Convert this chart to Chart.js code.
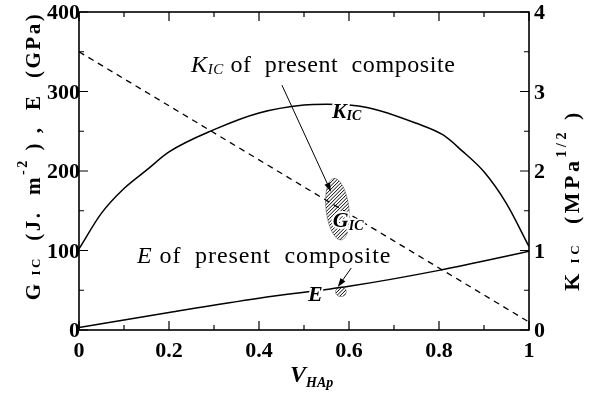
<!DOCTYPE html>
<html>
<head>
<meta charset="utf-8">
<script src="https://cdn.jsdelivr.net/npm/chart.js@4"></script>
<style>
  html, body { margin: 0; padding: 0; background: #fff; }
  #wrap { width: 599px; height: 396px; }
</style>
</head>
<body>
<div id="wrap"><canvas id="grafico" width="599" height="396"></canvas></div>
<script>
// K_IC curve (right axis, MPa^1/2)
const kVhap = [0, 0.05, 0.1, 0.15, 0.2, 0.3, 0.4, 0.5, 0.55, 0.64, 0.75, 0.81, 0.85, 0.9, 0.95, 1.0];
const kIc = [1.02, 1.47, 1.78, 2.01, 2.24, 2.52, 2.73, 2.83, 2.84, 2.80, 2.60, 2.45, 2.26, 1.99, 1.59, 1.05];

// E curve (left axis, GPa)
const eVhap = [0, 0.2, 0.4, 0.6, 0.8, 1.0];
const eMod = [3, 22, 40, 55, 75, 99];

// G_IC dashed line (left axis, J m^-2)
const gVhap = [0, 1];
const gIc = [350, 10];

// present composite (measured ranges)
const compGicVhap = [0.549, 0.600];
const compGicRange = [113, 191];
const compEVhap = [0.570, 0.594];
const compERange = [42, 54];

// ticks
const xMajor = [0, 0.2, 0.4, 0.6, 0.8, 1];
const xMajorLabels = ['0', '0.2', '0.4', '0.6', '0.8', '1'];
const xMinor = [0.1, 0.3, 0.5, 0.7, 0.9];
const leftMajor = [0, 100, 200, 300, 400];
const leftMinor = [50, 150, 250, 350];
const rightMajor = [0, 1, 2, 3, 4];
const rightMinor = [0.5, 1.5, 2.5, 3.5];

const F = '"Liberation Serif", "Times New Roman", serif';

function largura(ctx, parts, esp) {
  let w = 0;
  ctx.letterSpacing = (esp || 0) + 'px';
  for (const p of parts) { ctx.font = p[1]; w += ctx.measureText(p[0]).width; }
  ctx.letterSpacing = '0px';
  return w;
}

function escrever(ctx, x, y, parts, halo, esp) {
  let cx = x;
  ctx.letterSpacing = (esp || 0) + 'px';
  for (const p of parts) {
    ctx.font = p[1];
    if (halo) {
      ctx.strokeStyle = '#fff';
      ctx.lineWidth = 4;
      ctx.lineJoin = 'round';
      ctx.strokeText(p[0], cx, y + (p[2] || 0));
    }
    ctx.fillStyle = '#000';
    ctx.fillText(p[0], cx, y + (p[2] || 0));
    cx += ctx.measureText(p[0]).width;
  }
  ctx.letterSpacing = '0px';
}

function seta(ctx, x1, y1, x2, y2) {
  const a = Math.atan2(y2 - y1, x2 - x1);
  ctx.strokeStyle = '#000';
  ctx.lineWidth = 1;
  ctx.beginPath();
  ctx.moveTo(x1, y1);
  ctx.lineTo(x2 - 6 * Math.cos(a), y2 - 6 * Math.sin(a));
  ctx.stroke();
  ctx.fillStyle = '#000';
  ctx.beginPath();
  ctx.moveTo(x2, y2);
  ctx.lineTo(x2 - 9 * Math.cos(a) + 3 * Math.sin(a), y2 - 9 * Math.sin(a) - 3 * Math.cos(a));
  ctx.lineTo(x2 - 9 * Math.cos(a) - 3 * Math.sin(a), y2 - 9 * Math.sin(a) + 3 * Math.cos(a));
  ctx.closePath();
  ctx.fill();
}

function hachura(ctx, cx, cy, rx, ry, rot) {
  ctx.save();
  ctx.beginPath();
  ctx.ellipse(cx, cy, rx, ry, rot, 0, Math.PI * 2);
  ctx.clip();
  ctx.strokeStyle = '#000';
  ctx.lineWidth = 1;
  ctx.beginPath();
  for (let d = -ry * 3; d < ry * 3; d += 3.5) {
    ctx.moveTo(cx - ry * 2, cy + d + ry * 2);
    ctx.lineTo(cx + ry * 2, cy + d - ry * 2);
  }
  ctx.stroke();
  ctx.restore();
  ctx.save();
  ctx.strokeStyle = 'rgba(0,0,0,0.45)';
  ctx.lineWidth = 0.8;
  ctx.beginPath();
  ctx.ellipse(cx, cy, rx, ry, rot, 0, Math.PI * 2);
  ctx.stroke();
  ctx.restore();
}

const moldura = {
  id: 'moldura',
  afterDatasetsDraw(chart) {
    const ctx = chart.ctx;
    const { left, right, top, bottom } = chart.chartArea;
    const sx = chart.scales.x, sy = chart.scales.y, sk = chart.scales.y2;
    ctx.save();

    // composite measurements (hatched)
    const gx1 = sx.getPixelForValue(compGicVhap[0]), gx2 = sx.getPixelForValue(compGicVhap[1]);
    const gy1 = sy.getPixelForValue(compGicRange[0]), gy2 = sy.getPixelForValue(compGicRange[1]);
    hachura(ctx, (gx1 + gx2) / 2, (gy1 + gy2) / 2, (gx2 - gx1) / 2, (gy1 - gy2) / 2, -0.12);
    const ex1 = sx.getPixelForValue(compEVhap[0]), ex2 = sx.getPixelForValue(compEVhap[1]);
    const ey1 = sy.getPixelForValue(compERange[0]), ey2 = sy.getPixelForValue(compERange[1]);
    hachura(ctx, (ex1 + ex2) / 2, (ey1 + ey2) / 2, (ex2 - ex1) / 2, (ey1 - ey2) / 2, 0);

    // frame
    ctx.strokeStyle = '#000';
    ctx.lineWidth = 1.6;
    ctx.strokeRect(left, top, right - left, bottom - top);

    // ticks
    ctx.lineWidth = 1.2;
    ctx.beginPath();
    const tx = (vals, len) => vals.forEach(v => {
      const p = sx.getPixelForValue(v);
      ctx.moveTo(p, bottom); ctx.lineTo(p, bottom - len);
      ctx.moveTo(p, top); ctx.lineTo(p, top + len);
    });
    tx(xMajor, 9); tx(xMinor, 5);
    const tl = (vals, len) => vals.forEach(v => {
      const p = sy.getPixelForValue(v);
      ctx.moveTo(left, p); ctx.lineTo(left + len, p);
    });
    tl(leftMajor, 9); tl(leftMinor, 5);
    const tr = (vals, len) => vals.forEach(v => {
      const p = sk.getPixelForValue(v);
      ctx.moveTo(right, p); ctx.lineTo(right - len, p);
    });
    tr(rightMajor, 9); tr(rightMinor, 5);
    ctx.stroke();

    // tick labels
    ctx.fillStyle = '#000';
    ctx.font = `bold 22px ${F}`;
    ctx.textBaseline = 'alphabetic';
    ctx.textAlign = 'center';
    xMajor.forEach((v, i) => ctx.fillText(xMajorLabels[i], sx.getPixelForValue(v), bottom + 27));
    ctx.textAlign = 'right';
    leftMajor.forEach(v => ctx.fillText(String(v), left + 1, sy.getPixelForValue(v) + 7));
    ctx.textAlign = 'left';
    rightMajor.forEach(v => ctx.fillText(String(v), right + 5, sk.getPixelForValue(v) + 7));

    // axis titles
    const tituloY = [
      ['G', `bold 21px ${F}`], [' IC', `bold 13px ${F}`], ['  (J.  m', `bold 21px ${F}`],
      ['-2', `bold 14px ${F}`, -13], [' ) ,  E  (GPa)', `bold 21px ${F}`]
    ];
    ctx.save();
    ctx.translate(40, 156);
    ctx.rotate(-Math.PI / 2);
    escrever(ctx, -largura(ctx, tituloY, 2.5) / 2, 0, tituloY, false, 2.5);
    ctx.restore();

    const tituloK = [
      ['K', `bold 22px ${F}`], [' IC', `bold 13px ${F}`], ['  (MPa', `bold 22px ${F}`],
      ['1/2', `bold 14px ${F}`, -13], [' )', `bold 22px ${F}`]
    ];
    ctx.save();
    ctx.translate(579, 200);
    ctx.rotate(-Math.PI / 2);
    escrever(ctx, -largura(ctx, tituloK, 3.5) / 2, 0, tituloK, false, 3.5);
    ctx.restore();

    escrever(ctx, 290, 382, [['V', `bold italic 24px ${F}`], ['HAp', `bold italic 14px ${F}`, 5]]);

    // annotations
    escrever(ctx, sx.getPixelForValue(0.249), sy.getPixelForValue(324), [
      ['K', `italic 24px ${F}`], ['IC', `italic 15px ${F}`, 2], [' of  present  composite', `24px ${F}`]
    ], false, 0.6);
    seta(ctx, sx.getPixelForValue(0.451), sy.getPixelForValue(308), sx.getPixelForValue(0.56), sy.getPixelForValue(174));

    escrever(ctx, sx.getPixelForValue(0.129), sy.getPixelForValue(84), [
      ['E', `italic 24px ${F}`], [' of  present  composite', `24px ${F}`]
    ], false, 0.9);
    seta(ctx, sx.getPixelForValue(0.605), sy.getPixelForValue(78), sx.getPixelForValue(0.575), sy.getPixelForValue(54));

    // curve labels
    escrever(ctx, sx.getPixelForValue(0.562), sy.getPixelForValue(267), [
      ['K', `bold italic 22px ${F}`], ['IC', `bold italic 14px ${F}`, 2]
    ], true);
    escrever(ctx, sx.getPixelForValue(0.564), sy.getPixelForValue(130), [
      ['G', `bold italic 22px ${F}`], ['IC', `bold italic 14px ${F}`, 3]
    ], true);
    escrever(ctx, sx.getPixelForValue(0.509), sy.getPixelForValue(36), [
      ['E', `bold italic 22px ${F}`]
    ], true);

    ctx.restore();
  }
};

const pontos = (xs, ys) => xs.map((v, i) => ({ x: v, y: ys[i] }));

new Chart(document.getElementById('grafico').getContext('2d'), {
  type: 'line',
  data: {
    datasets: [
      { label: 'K_IC', data: pontos(kVhap, kIc), yAxisID: 'y2', borderColor: '#000', borderWidth: 1.5,
        pointRadius: 0, cubicInterpolationMode: 'monotone', fill: false },
      { label: 'E', data: pontos(eVhap, eMod), yAxisID: 'y', borderColor: '#000', borderWidth: 1.5,
        pointRadius: 0, cubicInterpolationMode: 'monotone', fill: false },
      { label: 'G_IC', data: pontos(gVhap, gIc), yAxisID: 'y', borderColor: '#000', borderWidth: 1.3,
        borderDash: [6, 5], pointRadius: 0, fill: false }
    ]
  },
  options: {
    responsive: false,
    animation: false,
    layout: { padding: { left: 79, right: 70, top: 12, bottom: 66 } },
    plugins: { legend: { display: false }, tooltip: { enabled: false } },
    scales: {
      x: { type: 'linear', min: 0, max: 1, display: false },
      y: { min: 0, max: 400, display: false },
      y2: { min: 0, max: 4, display: false, position: 'right' }
    }
  },
  plugins: [moldura]
});
</script>
</body>
</html>
